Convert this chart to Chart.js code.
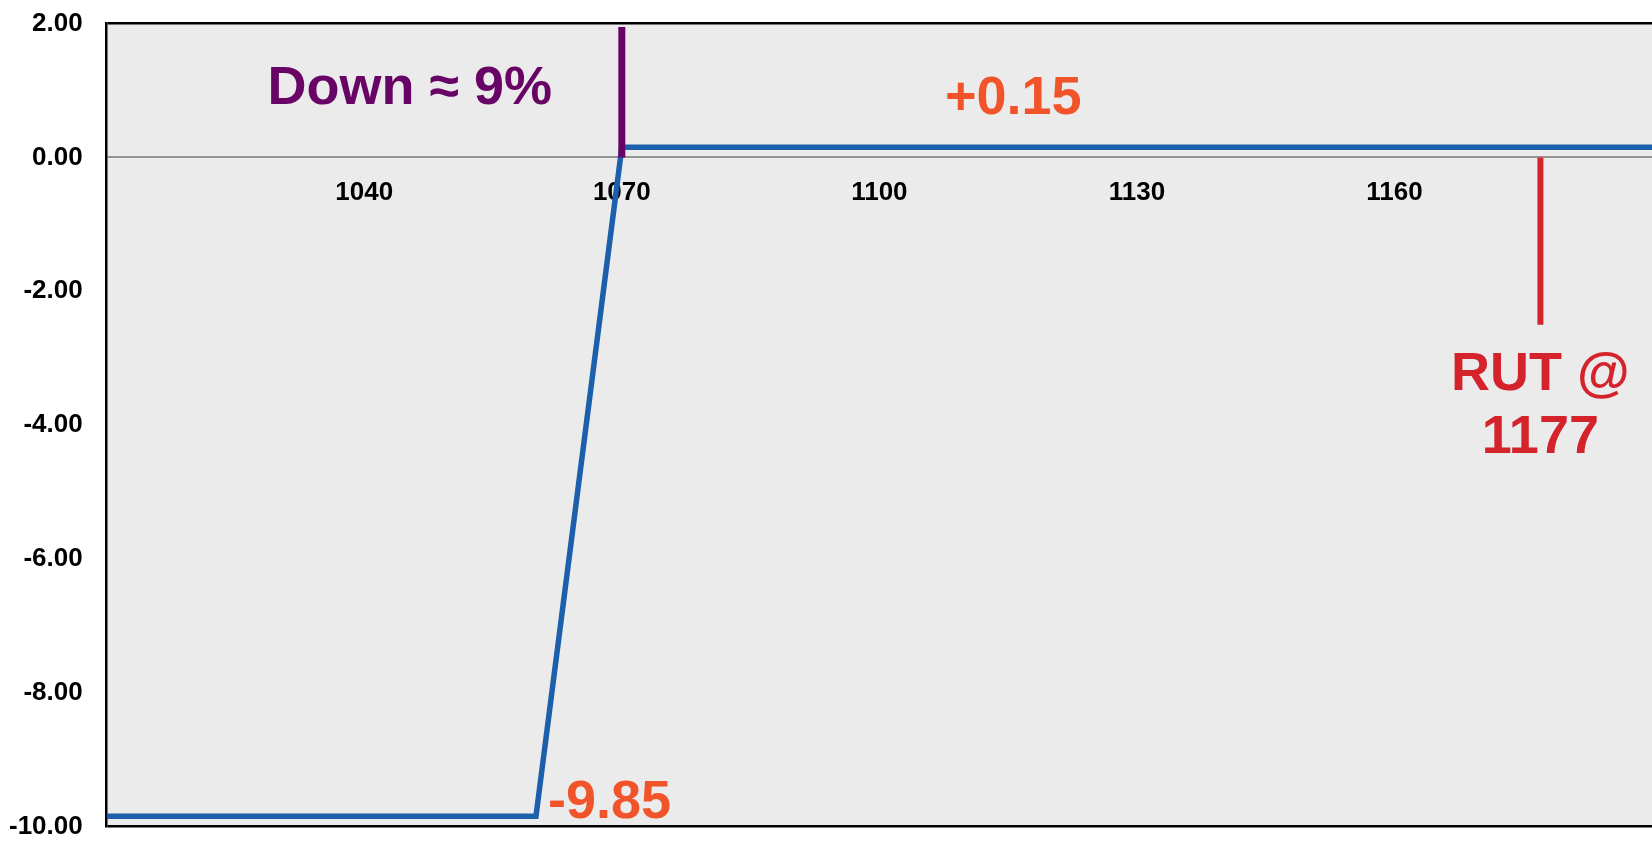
<!DOCTYPE html>
<html>
<head>
<meta charset="utf-8">
<script src="https://cdn.jsdelivr.net/npm/chart.js"></script>
<style>
  html, body { margin: 0; padding: 0; background: #fff; overflow: hidden; }
  /* canvas a bit taller than the window so the plot frame lines up */
  #wrap { width: 1652px; height: 882px; margin-top: -16px; }
</style>
</head>
<body>
<div id="wrap"><canvas id="chart"></canvas></div>
<script>
// payoff curve (index level vs P&L)
const pnlX = [1010, 1060, 1070, 1190];
const pnlY = [-9.85, -9.85, 0.15, 0.15];

// marker lines
const downX = [1070, 1070];
const downY = [0, 1.95];
const rutX = [1177, 1177];
const rutY = [0, -2.5];

// axis ticks
const xTicks = [1040, 1070, 1100, 1130, 1160];
const yTicks = [2, 0, -2, -4, -6, -8, -10];

// text labels, placed in data units (middle of the capitals)
const labelText = ['Down \u2248 9%', '+0.15', '-9.85', 'RUT @', '1177'];
const labelX = [1045.3, 1115.6, 1061.4, 1177, 1177];
const labelY = [1.09, 0.94, -9.58, -3.19, -4.13];
const labelColor = ['#680466', '#f1542a', '#f1542a', '#d5232c', '#d5232c'];
const labelAlign = ['center', 'center', 'left', 'center', 'center'];

const FONT = "'Liberation Sans', Arial, sans-serif";
const LABEL_SIZE = 54;

function pts(xs, ys) {
  return xs.map((x, i) => ({ x: x, y: ys[i] }));
}

const plotBg = {
  id: 'plotBg',
  beforeDraw(chart) {
    const a = chart.chartArea, ctx = chart.ctx;
    ctx.save();
    ctx.fillStyle = '#ebebeb';
    ctx.fillRect(a.left, a.top, a.right - a.left, a.bottom - a.top);
    ctx.restore();
  }
};

const textLabels = {
  id: 'textLabels',
  afterDatasetsDraw(chart) {
    const ctx = chart.ctx, xs = chart.scales.x, ys = chart.scales.y;
    ctx.save();
    ctx.font = 'bold ' + LABEL_SIZE + 'px ' + FONT;
    ctx.textBaseline = 'alphabetic';
    labelText.forEach((t, i) => {
      ctx.fillStyle = labelColor[i];
      ctx.textAlign = labelAlign[i];
      // shift by half the cap height so the capitals sit centred on the value
      ctx.fillText(t, xs.getPixelForValue(labelX[i]), ys.getPixelForValue(labelY[i]) + LABEL_SIZE * 0.36);
    });
    ctx.restore();
  }
};

document.addEventListener('DOMContentLoaded', function() {
  const ctx = document.getElementById('chart').getContext('2d');

  new Chart(ctx, {
    type: 'line',
    data: {
      datasets: [
        { data: pts(downX, downY), borderColor: '#680466', borderWidth: 7, order: 0 },
        { data: pts(rutX, rutY), borderColor: '#d5232c', borderWidth: 6, order: 1 },
        { data: pts(pnlX, pnlY), borderColor: '#1c5fab', borderWidth: 5.5, order: 2 }
      ]
    },
    options: {
      responsive: true,
      maintainAspectRatio: false,
      animation: false,
      elements: {
        point: { radius: 0 },
        line: { tension: 0, borderCapStyle: 'butt' }
      },
      layout: { padding: { top: 0, bottom: 0, left: -15, right: 0 } },
      plugins: {
        legend: { display: false },
        tooltip: { enabled: false }
      },
      scales: {
        x: {
          type: 'linear',
          min: 1010,
          max: 1190,
          position: { y: 0 },
          afterBuildTicks: s => { s.ticks = xTicks.map(v => ({ value: v })); },
          grid: { display: false },
          border: { display: false },
          ticks: {
            color: '#000',
            padding: 12,
            maxRotation: 0,
            font: { family: FONT, size: 26, weight: 'bold' },
            callback: v => String(v)
          }
        },
        y: {
          min: -10,
          max: 2,
          afterBuildTicks: s => { s.ticks = yTicks.map(v => ({ value: v })); },
          grid: {
            drawTicks: false,
            color: c => c.tick.value === 0 ? '#949494' : (c.tick.value === 2 || c.tick.value === -10 ? '#000' : 'rgba(0,0,0,0)'),
            lineWidth: c => c.tick.value === 0 ? 2 : 2.5
          },
          border: { display: true, color: '#000', width: 2.5 },
          ticks: {
            color: '#000',
            padding: 24,
            font: { family: FONT, size: 26, weight: 'bold' },
            callback: v => v.toFixed(2)
          }
        }
      }
    },
    plugins: [plotBg, textLabels]
  });
});
</script>
</body>
</html>
